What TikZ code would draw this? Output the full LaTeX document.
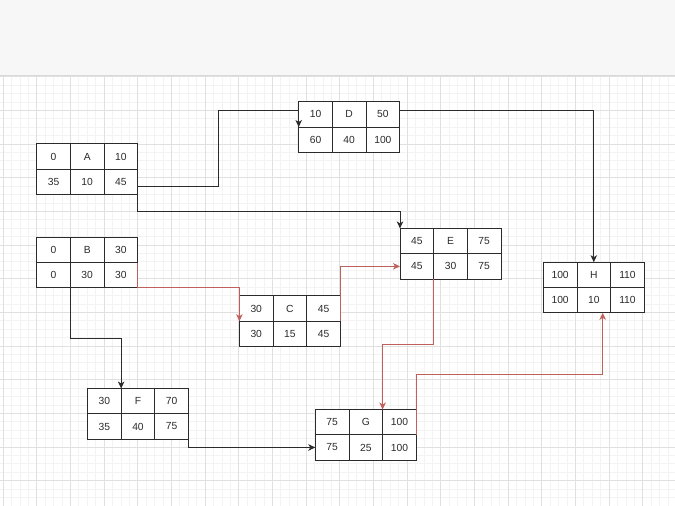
\documentclass[tikz,border=0pt]{standalone}
\usepackage{fontspec}
\setmainfont{Liberation Sans}
\usetikzlibrary{arrows.meta,calc,positioning}

\definecolor{band}{HTML}{F7F7F7}
\definecolor{bandline}{HTML}{D9D9D9}
\definecolor{gridmajor}{HTML}{E0E0E0}
\definecolor{gridminor}{HTML}{F3F3F3}
\definecolor{ink}{HTML}{2B2B2B}
\definecolor{critred}{HTML}{C0605C}

% one activity: name, centre, ES, label, EF, LS, duration, LF
\newcommand{\actbox}[8]{%
  \node[actnode] (#1) at (#2) {};
  \foreach \v [count=\k, evaluate=\k as \cx using {33.667*(mod(\k-1,3)-1)},
    evaluate=\k as \cy using {25.3*floor((\k-1)/3)-12.65}] in {#3,#4,#5,#6,#7,#8}
    {\node[cell] (#1-\k) at ($(#1)+(\cx,\cy)$) {\v};}
}

\begin{document}
\begin{tikzpicture}[x=1pt,y=-1pt,
    actnode/.style={draw=ink,line width=0.9pt,fill=white,minimum width=101pt,
      minimum height=50.6pt,inner sep=0pt,outer sep=0pt},
    cell/.style={draw=ink,line width=0.9pt,minimum width=33.667pt,
      minimum height=25.3pt,inner sep=0pt,outer sep=0pt,text=ink,
      font=\fontsize{10.3}{12}\selectfont},
    link/.style={draw=ink,line width=1pt,
      -{Stealth[length=7pt,width=6.5pt,inset=2pt]}},
    crit/.style={link,draw=critred}]
  \useasboundingbox (0,0) rectangle (675,506);
  % background
  \fill[band] (0,0) rectangle (675,75.5);
  \foreach \i in {0,...,80}
    {\draw[gridminor,line width=0.6pt] ({3.0+8.417*\i},76) -- ++(0,430);}
  \foreach \i in {0,...,51}
    {\draw[gridminor,line width=0.6pt] (0,{76.6+8.417*\i}) -- ++(675,0);}
  \foreach \i in {0,...,20}
    {\draw[gridmajor,line width=0.6pt] ({3.0+33.667*\i},76) -- ++(0,430);}
  \foreach \i in {0,...,12}
    {\draw[gridmajor,line width=0.6pt] (0,{76.6+33.667*\i}) -- ++(675,0);}
  \draw[bandline,line width=0.8pt] (0,75.5) -- (675,75.5);

  % activities
  \actbox{A}{87.2,169.2}{0}{A}{10}{35}{10}{45}
  \actbox{B}{87.2,262.6}{0}{B}{30}{0}{30}{30}
  \actbox{C}{289.9,321.2}{30}{C}{45}{30}{15}{45}
  \actbox{D}{349.2,127}{10}{D}{50}{60}{40}{100}
  \actbox{E}{450.5,253.7}{45}{E}{75}{45}{30}{75}
  \actbox{F}{138,413.8}{30}{F}{70}{35}{40}{75}
  \actbox{G}{365.8,434.8}{75}{G}{100}{75}{25}{100}
  \actbox{H}{593.8,287.5}{100}{H}{110}{100}{10}{110}

  % links
  \draw[link] ([yshift=8.4pt]A.south east) -- ++(80.6,0)
    |- ([yshift=16.3pt]D.west) -- (D.west);
  \draw[link] (A.south east) -- ++(0,17.4) -| (E.north west);
  \draw[link] ([yshift=16.3pt]D.east) -| (H.north);
  \draw[link] (B-4.south east) -- ++(0,51) -| (F-1.north east);
  \draw[link] (F.east) |- (G-4.west);
  \draw[crit] (B.east) -- (B.south east) -| (C.west);
  \draw[crit] (C.east) |- (E-4.west);
  \draw[crit] (E-4.south east) -- ++(0,65.3) -| (G-2.north east);
  \draw[crit] (G.east) -- ++(0,-60.5) -| ([xshift=8.9pt]H.south);
\end{tikzpicture}
\end{document}
